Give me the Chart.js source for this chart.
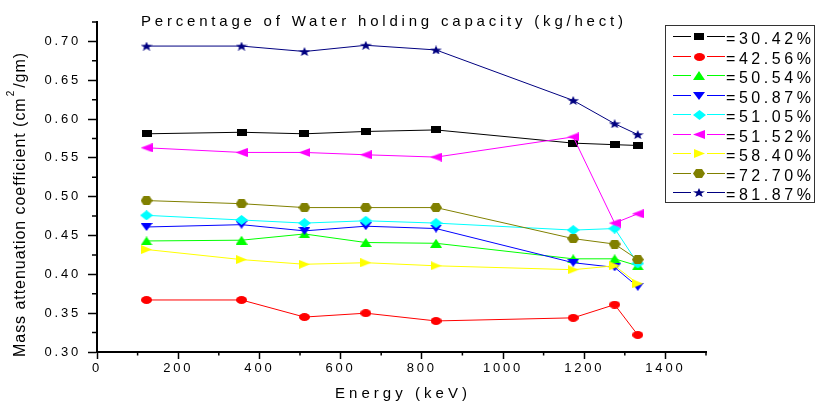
<!DOCTYPE html>
<html>
<head>
<meta charset="utf-8">
<script src="https://cdn.jsdelivr.net/npm/chart.js@4.4.1/dist/chart.umd.min.js"></script>
<style>
  body { margin: 0; background: #fff; }
  canvas { display: block; }
</style>
</head>
<body>
<canvas id="chart" width="816" height="402"></canvas>
<script>
// Data
const energy = [122, 356, 511, 662, 835, 1173, 1275, 1332];
const seriesNames = ['=30.42%', '=42.56%', '=50.54%', '=50.87%', '=51.05%', '=51.52%', '=58.40%', '=72.70%', '=81.87%'];
const w3042 = [0.581, 0.583, 0.581, 0.584, 0.586, 0.569, 0.567, 0.566];
const w4256 = [0.367, 0.367, 0.345, 0.350, 0.340, 0.344, 0.361, 0.322];
const w5054 = [0.443, 0.444, 0.452, 0.441, 0.440, 0.420, 0.420, 0.411];
const w5087 = [0.461, 0.464, 0.456, 0.462, 0.459, 0.415, 0.409, 0.384];
const w5105 = [0.476, 0.470, 0.466, 0.469, 0.466, 0.457, 0.459, 0.414];
const w5152 = [0.563, 0.557, 0.557, 0.554, 0.551, 0.577, 0.466, 0.478];
const w5840 = [0.432, 0.419, 0.413, 0.415, 0.411, 0.406, 0.411, 0.388];
const w7270 = [0.495, 0.491, 0.486, 0.486, 0.486, 0.446, 0.439, 0.419];
const w8187 = [0.694, 0.694, 0.687, 0.695, 0.689, 0.624, 0.594, 0.580];
const seriesValues = [w3042, w4256, w5054, w5087, w5105, w5152, w5840, w7270, w8187];

const colors = ['#000000', '#ff0000', '#00ff00', '#0000ff', '#00ffff', '#ff00ff', '#ffff00', '#808000', '#000080'];

const titleText = 'Percentage of Water holding capacity (kg/hect)';
const xTitle = 'Energy (keV)';
const FONT = '"Liberation Sans", Arial, sans-serif';

// marker shapes (polygons get scaled into the w x h box)
function starPoints() {
    const pts = [];
    for (let k = 0; k < 10; k++) {
        const a = -Math.PI / 2 + k * Math.PI / 5;
        const r = k % 2 === 0 ? 1 : 0.4;
        pts.push([r * Math.cos(a), r * Math.sin(a)]);
    }
    return pts;
}
function hexPoints() {
    const pts = [];
    for (let k = 0; k < 6; k++) {
        const a = k * Math.PI / 3;
        pts.push([Math.cos(a), Math.sin(a)]);
    }
    return pts;
}
const shapes = {
    square: [[0, 0], [1, 0], [1, 1], [0, 1]],
    up: [[0, 1], [0.5, 0], [1, 1]],
    down: [[0, 0], [1, 0], [0.5, 1]],
    left: [[1, 0], [1, 1], [0, 0.5]],
    right: [[0, 0], [0, 1], [1, 0.5]],
    diamond: [[0.5, 0], [1, 0.5], [0.5, 1], [0, 0.5]],
    hex: hexPoints(),
    star: starPoints()
};

function makeMarker(shape, color, w, h) {
    const c = document.createElement('canvas');
    c.width = w;
    c.height = h;
    const g = c.getContext('2d');
    g.fillStyle = color;
    g.beginPath();
    if (shape === 'circle') {
        g.ellipse(w / 2, h / 2, w / 2, h / 2, 0, 0, Math.PI * 2);
    } else {
        const pts = shapes[shape];
        const xs = pts.map(p => p[0]), ys = pts.map(p => p[1]);
        const x0 = Math.min(...xs), x1 = Math.max(...xs);
        const y0 = Math.min(...ys), y1 = Math.max(...ys);
        pts.forEach((p, i) => {
            const px = (p[0] - x0) / (x1 - x0) * w;
            const py = (p[1] - y0) / (y1 - y0) * h;
            if (i === 0) g.moveTo(px, py); else g.lineTo(px, py);
        });
        g.closePath();
    }
    g.fill();
    return c;
}

const markers = [
    makeMarker('square', colors[0], 10, 7),
    makeMarker('circle', colors[1], 11, 8),
    makeMarker('up', colors[2], 12, 9),
    makeMarker('down', colors[3], 12, 8),
    makeMarker('diamond', colors[4], 13, 10),
    makeMarker('left', colors[5], 12, 9),
    makeMarker('right', colors[6], 11, 9),
    makeMarker('hex', colors[7], 12, 9),
    makeMarker('star', colors[8], 12, 9)
];

const datasets = seriesValues.map((vals, i) => ({
    label: seriesNames[i],
    data: vals.map((v, j) => ({ x: energy[j], y: v })),
    borderColor: colors[i],
    backgroundColor: colors[i],
    borderWidth: 1,
    pointStyle: markers[i],
    pointRadius: 5,
    tension: 0,
    order: seriesValues.length - i
}));

// draw text with letter spacing stretched to a given width
function fitText(ctx, text, x, y, width) {
    ctx.letterSpacing = '0px';
    const w0 = ctx.measureText(text).width;
    const s = (width - w0) / (text.length - 1);
    ctx.letterSpacing = s + 'px';
    ctx.fillText(text, x, y);
    ctx.letterSpacing = '0px';
}

const overlay = {
    id: 'overlay',
    beforeDraw(chart) {
        chart.ctx.letterSpacing = '2.8px';
    },
    afterDraw(chart) {
        const ctx = chart.ctx;
        const xs = chart.scales.x, ys = chart.scales.y;
        ctx.save();
        ctx.letterSpacing = '0px';

        // minor ticks
        ctx.strokeStyle = '#000';
        ctx.lineWidth = 1.5;
        ctx.beginPath();
        for (let v = 0.325; v < 0.73; v += 0.05) {
            const y = ys.getPixelForValue(v);
            ctx.moveTo(xs.left - 5, y);
            ctx.lineTo(xs.left, y);
        }
        for (let v = 100; v <= 1500; v += 200) {
            const x = xs.getPixelForValue(v);
            ctx.moveTo(x, ys.bottom);
            ctx.lineTo(x, ys.bottom + 3.5);
        }
        ctx.stroke();

        // titles
        ctx.fillStyle = '#000';
        ctx.textAlign = 'left';
        ctx.textBaseline = 'alphabetic';
        ctx.font = '15px ' + FONT;
        fitText(ctx, titleText, 141, 26, 482);
        fitText(ctx, xTitle, 335, 398, 132);

        // y title, rotated, with superscript 2
        ctx.save();
        ctx.translate(25, 357);
        ctx.rotate(-Math.PI / 2);
        const p1 = 'Mass attenuation coefficient (cm', p2 = '/gm)';
        ctx.font = '16px ' + FONT;
        const w1 = ctx.measureText(p1).width;
        const w2 = ctx.measureText(p2).width;
        ctx.font = '10px ' + FONT;
        const ws = ctx.measureText('2').width;
        const n = p1.length + p2.length + 1;
        const s = Math.max(0, (304 - w1 - w2 - ws - 3) / (n - 1));
        ctx.letterSpacing = s + 'px';
        ctx.font = '16px ' + FONT;
        ctx.fillText(p1, 0, 0);
        let x = ctx.measureText(p1).width + 1;
        ctx.font = '10px ' + FONT;
        ctx.fillText('2', x, -11);
        x += ctx.measureText('2').width + 2;
        ctx.font = '16px ' + FONT;
        ctx.fillText(p2, x, 0);
        ctx.restore();

        // legend
        ctx.fillStyle = '#fff';
        ctx.fillRect(665, 25, 150, 177);
        ctx.strokeStyle = '#333';
        ctx.lineWidth = 1;
        ctx.strokeRect(665.5, 25.5, 149, 177);
        ctx.font = '16px ' + FONT;
        seriesNames.forEach((name, i) => {
            const cy = Math.round(36 + i * 19.5) + 0.5;
            ctx.strokeStyle = colors[i];
            ctx.beginPath();
            ctx.moveTo(673, cy); ctx.lineTo(691, cy);
            ctx.moveTo(707, cy); ctx.lineTo(725, cy);
            ctx.stroke();
            const m = markers[i];
            ctx.drawImage(m, Math.round(699 - m.width / 2), Math.round(cy - m.height / 2));
            ctx.fillStyle = '#000';
            fitText(ctx, name, 726, cy + 7, 85);
        });
        ctx.restore();
    }
};

new Chart(document.getElementById('chart'), {
    type: 'line',
    data: { datasets: datasets },
    options: {
        responsive: false,
        animation: false,
        layout: { padding: { top: 22, right: 110, left: 0, bottom: 0 } },
        plugins: {
            legend: { display: false },
            title: { display: false },
            tooltip: { enabled: false }
        },
        scales: {
            x: {
                type: 'linear',
                min: 0,
                max: 1500,
                afterFit: scale => { scale.height = 50; },
                ticks: {
                    stepSize: 200,
                    includeBounds: false,
                    maxRotation: 0,
                    padding: 2,
                    color: '#000',
                    font: { family: FONT, size: 13 },
                    callback: v => String(v)
                },
                grid: { drawOnChartArea: false, tickLength: 7, tickColor: '#000', tickWidth: 1.5 },
                border: { color: '#000', width: 2 }
            },
            y: {
                min: 0.30,
                max: 0.725,
                afterFit: scale => { scale.width = 97; },
                ticks: {
                    stepSize: 0.05,
                    includeBounds: false,
                    padding: 7,
                    color: '#000',
                    font: { family: FONT, size: 13 },
                    callback: v => v.toFixed(2)
                },
                grid: { drawOnChartArea: false, tickLength: 9, tickColor: '#000', tickWidth: 1.5 },
                border: { color: '#000', width: 2 }
            }
        }
    },
    plugins: [overlay]
});
</script>
</body>
</html>
